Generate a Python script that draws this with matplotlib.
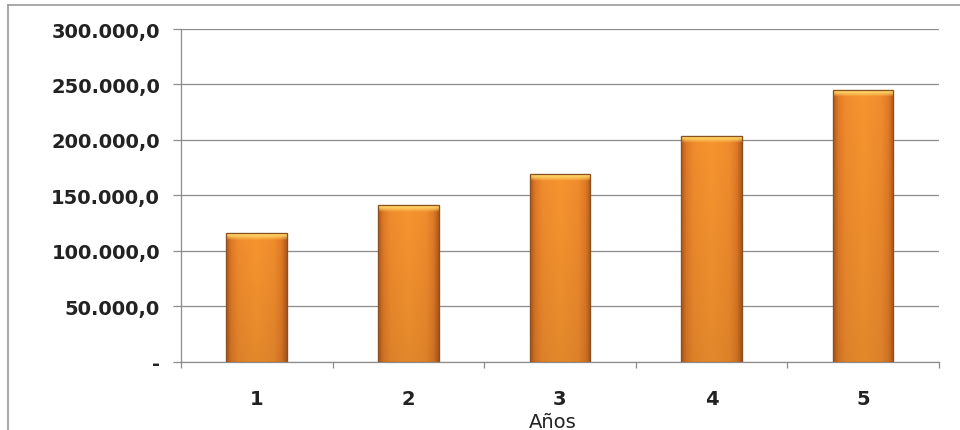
import numpy as np
import matplotlib
matplotlib.use("Agg")
import matplotlib.pyplot as plt
from matplotlib.ticker import FuncFormatter, FixedLocator
from matplotlib.colors import LinearSegmentedColormap
from matplotlib.lines import Line2D

# Datos
anos = [1, 2, 3, 4, 5]
valores = [115700, 141300, 169000, 203300, 244600]
y_ticks = [0, 50000, 100000, 150000, 200000, 250000, 300000]
x_label = "Años"


def fmt_miles(v, pos):
    # 300000 -> "300.000,0", 0 -> "-"
    if v == 0:
        return "-"
    s = f"{v:,.1f}"
    return s.replace(",", "X").replace(".", ",").replace("X", ".")


fig = plt.figure(figsize=(9.6, 4.31), dpi=100)
ax = fig.add_axes([0.1885, 0.1585, 0.7895, 0.7718])

bar_w = 0.40
bars = ax.bar(anos, valores, width=bar_w, color="#F28E2E",
              edgecolor="#8A5020", linewidth=0.8, zorder=3)

# degradado horizontal + bisel superior, recortado a cada barra
cmap_h = LinearSegmentedColormap.from_list(
    "naranja", [(0.0, "#B35C1C"), (0.08, "#E07A26"), (0.2, "#F08C2D"),
                (0.5, "#F7952F"), (0.8, "#F08C2D"), (0.92, "#E07A26"),
                (1.0, "#B35C1C")])
for b, v in zip(bars, valores):
    x0 = b.get_x()
    x1 = x0 + b.get_width()
    ncol, nrow = 60, 400
    grad = np.tile(np.linspace(0, 1, ncol), (nrow, 1))
    rgba = cmap_h(grad)
    # leve oscurecimiento hacia abajo
    shade = np.linspace(1.0, 0.92, nrow)[:, None]
    rgba[:, :, :3] *= shade[:, :, None]
    # bisel claro arriba (~6.000 unidades)
    ntop = max(3, int(nrow * 6500 / v))
    top = np.linspace(0, 1, ntop)[:, None] ** 1.5
    light = np.array([1.0, 0.86, 0.42])
    rgba[:ntop, :, :3] = light * (1 - top[:, :, None]) + rgba[:ntop, :, :3] * top[:, :, None]
    im = ax.imshow(rgba, extent=(x0, x1, 0, v), aspect="auto", origin="upper",
                   zorder=3.5, interpolation="bilinear")
    im.set_clip_path(b)
    ax.bar([b.get_x() + b.get_width() / 2], [v], width=bar_w, facecolor="none",
           edgecolor="#8A5020", linewidth=0.9, zorder=4)

ax.set_xlim(0.5, 5.5)
ax.set_ylim(0, 300000)
ax.set_yticks(y_ticks)
ax.yaxis.set_major_formatter(FuncFormatter(fmt_miles))
ax.set_xticks(anos)
ax.set_xticklabels([str(a) for a in anos])
ax.xaxis.set_minor_locator(FixedLocator([a + 0.5 for a in [0] + anos]))

ax.grid(axis="y", color="#8C8C8C", linewidth=0.9, zorder=0)
ax.set_axisbelow(True)
for s in ["top", "right"]:
    ax.spines[s].set_visible(False)
ax.spines["left"].set_color("#8C8C8C")
ax.spines["bottom"].set_color("#8C8C8C")
ax.spines["left"].set_linewidth(0.9)
ax.spines["bottom"].set_linewidth(0.9)

ax.tick_params(axis="y", length=6, width=0.9, color="#8C8C8C", pad=9,
               labelsize=14, labelcolor="#222222")
ax.tick_params(axis="x", which="major", length=0, pad=20,
               labelsize=14, labelcolor="#222222")
ax.tick_params(axis="x", which="minor", length=4, width=0.9, color="#8C8C8C")
for lbl in ax.get_yticklabels() + ax.get_xticklabels():
    lbl.set_fontweight("bold")

ax.set_xlabel(x_label, fontsize=14, color="#222222")
ax.xaxis.set_label_coords(0.49, -0.18)
ax.xaxis.label.set_va("center")

# borde del area del grafico (solo arriba e izquierda visibles)
fig.add_artist(Line2D([8 / 960, 1.0], [1 - 6 / 431, 1 - 6 / 431],
                      transform=fig.transFigure, color="#9A9A9A", linewidth=1.2))
fig.add_artist(Line2D([8 / 960, 8 / 960], [0.0, 1 - 6 / 431],
                      transform=fig.transFigure, color="#9A9A9A", linewidth=1.2))

fig.savefig("out.png", dpi=100)
